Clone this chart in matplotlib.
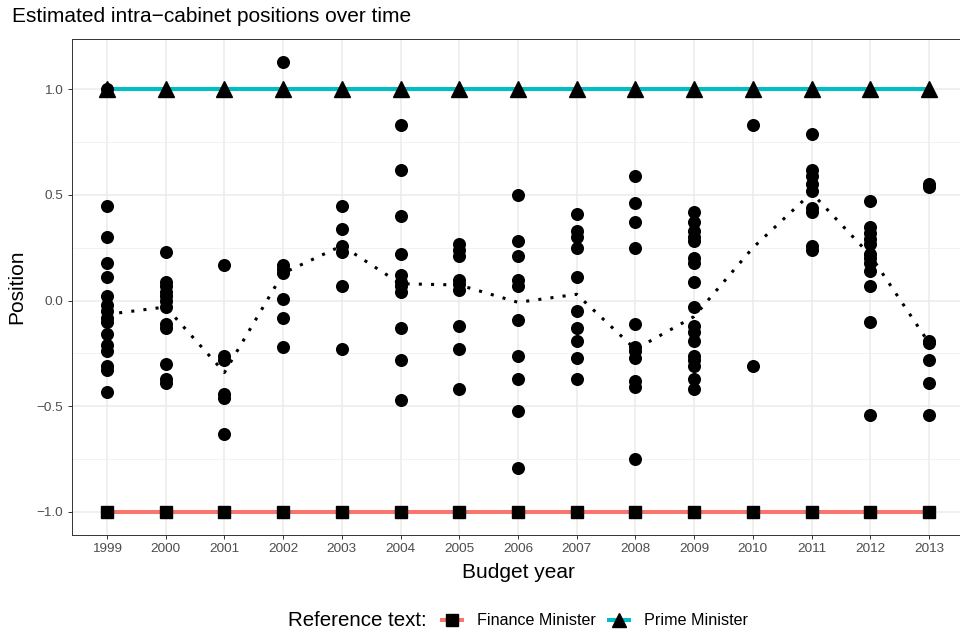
import matplotlib
matplotlib.use('Agg')
import matplotlib.pyplot as plt
from matplotlib.lines import Line2D
from matplotlib.ticker import MultipleLocator

plt.rcParams['font.family'] = ['Liberation Sans', 'DejaVu Sans']

# budget years (discrete x axis)
years = [1999, 2000, 2001, 2002, 2003, 2004, 2005, 2006, 2007, 2008, 2009, 2010, 2011, 2012, 2013]
year_labels = ['1999', '2000', '2001', '2002', '2003', '2004', '2005', '2006', '2007',
               '2008', '2009', '2010', '2011', '2012', '2013']

# estimated positions of the cabinet members, one list per year
pos_1999 = [1.0, 0.45, 0.30, 0.18, 0.11, 0.02, -0.02, -0.05, -0.08, -0.10, -0.16, -0.21, -0.24, -0.31, -0.33, -0.43]
pos_2000 = [0.23, 0.09, 0.07, 0.04, 0.02, 0.0, -0.03, -0.11, -0.13, -0.30, -0.37, -0.39]
pos_2001 = [0.17, -0.26, -0.28, -0.44, -0.46, -0.63]
pos_2002 = [1.13, 0.17, 0.15, 0.13, 0.01, -0.08, -0.22]
pos_2003 = [0.45, 0.34, 0.26, 0.23, 0.07, -0.23]
pos_2004 = [0.83, 0.62, 0.40, 0.22, 0.12, 0.09, 0.07, 0.04, -0.13, -0.28, -0.47]
pos_2005 = [0.27, 0.24, 0.21, 0.10, 0.08, 0.05, -0.12, -0.23, -0.42]
pos_2006 = [0.50, 0.28, 0.21, 0.10, 0.07, -0.09, -0.26, -0.37, -0.52, -0.79]
pos_2007 = [0.41, 0.33, 0.30, 0.25, 0.11, -0.05, -0.13, -0.19, -0.27, -0.37]
pos_2008 = [0.59, 0.46, 0.37, 0.25, -0.11, -0.22, -0.24, -0.27, -0.38, -0.41, -0.75]
pos_2009 = [0.42, 0.37, 0.33, 0.30, 0.28, 0.20, 0.18, 0.09, -0.03, -0.12, -0.15, -0.19, -0.26, -0.28, -0.31, -0.37, -0.42]
pos_2010 = [0.83, -0.31]
pos_2011 = [0.79, 0.62, 0.59, 0.55, 0.52, 0.44, 0.42, 0.26, 0.24]
pos_2012 = [0.47, 0.35, 0.32, 0.29, 0.27, 0.22, 0.20, 0.18, 0.14, 0.07, -0.10, -0.54]
pos_2013 = [0.55, 0.54, -0.19, -0.20, -0.28, -0.39, -0.54]

positions = [pos_1999, pos_2000, pos_2001, pos_2002, pos_2003, pos_2004, pos_2005, pos_2006,
             pos_2007, pos_2008, pos_2009, pos_2010, pos_2011, pos_2012, pos_2013]

# average position per year (dotted line)
mean_position = [-0.065, -0.03, -0.34, 0.13, 0.26, 0.08, 0.074, -0.008, 0.03, -0.23, -0.075, 0.25, 0.51, 0.215, -0.2]

# reference texts
finance_minister = [-1.0, -1.0, -1.0, -1.0, -1.0, -1.0, -1.0, -1.0, -1.0, -1.0, -1.0, -1.0, -1.0, -1.0, -1.0]
prime_minister = [1.0, 1.0, 1.0, 1.0, 1.0, 1.0, 1.0, 1.0, 1.0, 1.0, 1.0, 1.0, 1.0, 1.0, 1.0]

fm_color = '#F8766D'
pm_color = '#00BFC4'

fig = plt.figure(figsize=(9.6, 6.32), dpi=100)
ax = fig.add_axes([71.8 / 960, 1 - 534.5 / 632, 892.4 / 960, 495.2 / 632])

ax.plot(years, finance_minister, color=fm_color, lw=2.9, zorder=2)
ax.plot(years, prime_minister, color=pm_color, lw=2.9, zorder=2)

for yr, vals in zip(years, positions):
    ax.plot([yr] * len(vals), vals, 'o', color='black', markersize=9.4, markeredgewidth=0, zorder=3)

ax.plot(years, mean_position, color='black', lw=2.2, linestyle=(0, (1, 3)), zorder=4)

ax.plot(years, finance_minister, 's', color='black', markersize=8, zorder=5)
ax.plot(years, prime_minister, '^', color='black', markersize=11, zorder=5)

ax.set_xlim(1998.4, 2013.6)
ax.set_ylim(-1.1065, 1.2365)
ax.set_xticks(years)
ax.set_xticklabels(year_labels)
ax.set_yticks([-1.0, -0.5, 0.0, 0.5, 1.0])
ax.set_yticklabels(['\u22121.0', '\u22120.5', '0.0', '0.5', '1.0'])
ax.yaxis.set_minor_locator(MultipleLocator(0.25))

ax.set_axisbelow(True)
ax.grid(which='major', color='#EBEBEB', lw=1.1)
ax.grid(which='minor', axis='y', color='#F0F0F0', lw=0.6)
ax.tick_params(which='major', length=3.2, width=0.7, color='#333333',
               labelcolor='#4D4D4D', labelsize=9.7, pad=3)
ax.tick_params(which='minor', length=0)
for sp in ax.spines.values():
    sp.set_color('#333333')
    sp.set_linewidth(0.7)

ax.set_xlabel('Budget year', fontsize=15)
ax.xaxis.set_label_coords(0.5, (534.5 - 572) / 495.2)
ax.xaxis.label.set_va('center')
ax.set_ylabel('Position', fontsize=15)
ax.yaxis.set_label_coords((17 - 71.8) / 892.4, 0.5)
ax.yaxis.label.set_va('center')

fig.text(12 / 960, 1 - 16 / 632, 'Estimated intra\u2212cabinet positions over time',
         fontsize=15, va='center', ha='left')

# legend at the bottom
fig.text(288 / 960, 1 - 620.7 / 632, 'Reference text:', fontsize=14.8, va='center', ha='left')
handles = [
    Line2D([], [], color=fm_color, lw=2.9, marker='s', markersize=8,
           markerfacecolor='black', markeredgecolor='black'),
    Line2D([], [], color=pm_color, lw=2.9, marker='^', markersize=10,
           markerfacecolor='black', markeredgecolor='black'),
]
fig.legend(handles, ['Finance Minister', 'Prime Minister'], loc='center left',
           bbox_to_anchor=(442 / 960, 1 - 620.7 / 632), ncol=2, frameon=False,
           fontsize=11.6, handlelength=1.25, handletextpad=0.93, columnspacing=0.8,
           borderpad=0, borderaxespad=0)

fig.savefig('out.png', dpi=100)
